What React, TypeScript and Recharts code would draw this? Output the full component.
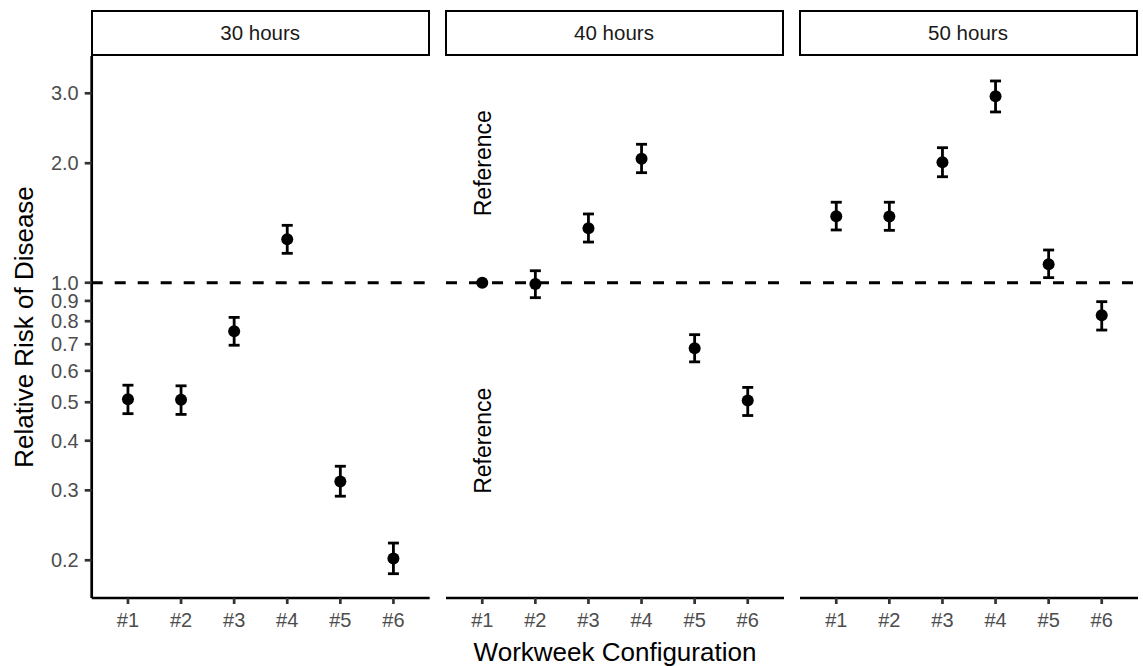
import React from 'react';
import {
  ScatterChart,
  Scatter,
  XAxis,
  YAxis,
  ErrorBar,
  ReferenceLine,
  ReferenceDot,
  Label,
} from 'recharts';

// ---------- data ----------
const categories = ['#1', '#2', '#3', '#4', '#5', '#6'];
const panelTitles = ['30 hours', '40 hours', '50 hours'];

const est30 = [0.509, 0.507, 0.755, 1.287, 0.316, 0.202];
const lo30 = [0.468, 0.466, 0.696, 1.186, 0.29, 0.185];
const hi30 = [0.552, 0.55, 0.818, 1.395, 0.345, 0.221];

const est40 = [1.0, 0.993, 1.371, 2.053, 0.684, 0.505];
const lo40 = [1.0, 0.917, 1.266, 1.893, 0.632, 0.463];
const hi40 = [1.0, 1.072, 1.49, 2.232, 0.74, 0.545];

const est50 = [1.471, 1.469, 2.011, 2.948, 1.113, 0.828];
const lo50 = [1.358, 1.355, 1.849, 2.692, 1.03, 0.76];
const hi50 = [1.595, 1.595, 2.188, 3.222, 1.209, 0.896];

const yTicks = [0.2, 0.3, 0.4, 0.5, 0.6, 0.7, 0.8, 0.9, 1.0, 2.0, 3.0];
const yDomain = [0.1607, 3.724];
const referenceLabelY = [2.0, 0.4];
const referenceText = 'Reference';
const yTitle = 'Relative Risk of Disease';
const xTitle = 'Workweek Configuration';

// ---------- layout / style ----------
const FONT = '"Liberation Sans", Arial, Helvetica, sans-serif';
const W = 1143;
const H = 666;
const PLOT_TOP = 56;
const PLOT_BOTTOM = 598;
const PLOT_W = 338;
const PANEL_LEFTS = [91.7, 445.5, 799.5];
const AXIS_W = 2.7;

const buildRows = (est: number[], lo: number[], hi: number[]) =>
  categories.map((c, i) => ({
    x: i + 1,
    est: est[i],
    err: [est[i] - lo[i], hi[i] - est[i]],
  }));

const panelData = [
  buildRows(est30, lo30, hi30),
  buildRows(est40, lo40, hi40),
  buildRows(est50, lo50, hi50),
];

const Dot = (p: any) => <circle cx={p.cx} cy={p.cy} r={6} fill="#000" />;

const YTitle = (props: any) => {
  const vb = props.viewBox || {};
  const cy = vb.y + vb.height / 2;
  const x = 33;
  return (
    <text
      x={x}
      y={cy}
      transform={`rotate(-90, ${x}, ${cy})`}
      textAnchor="middle"
      fontSize={26}
      fontFamily={FONT}
      fill="#000"
    >
      {yTitle}
    </text>
  );
};

const XTitle = (props: any) => {
  const vb = props.viewBox || {};
  const cx = vb.x + vb.width / 2;
  return (
    <text x={cx} y={661} textAnchor="middle" fontSize={26} fontFamily={FONT} fill="#000">
      {xTitle}
    </text>
  );
};

const RefText = (props: any) => {
  const vb = props.viewBox || {};
  const cx = vb.x + (vb.width || 0) / 2;
  const cy = vb.y + (vb.height || 0) / 2;
  const bx = cx + 9;
  return (
    <text
      x={bx}
      y={cy}
      transform={`rotate(-90, ${bx}, ${cy})`}
      textAnchor="middle"
      fontSize={23}
      fontFamily={FONT}
      fill="#000"
    >
      {referenceText}
    </text>
  );
};

function Panel({ index }: { index: number }) {
  const first = index === 0;
  const yAxisW = first ? PANEL_LEFTS[0] : 0;
  const leftMargin = first ? 0 : 2;
  const chartLeft = first ? 0 : PANEL_LEFTS[index] - 2;
  const chartW = (first ? PANEL_LEFTS[0] : 2) + PLOT_W + 2;
  return (
    <div style={{ position: 'absolute', left: chartLeft, top: 0 }}>
      <ScatterChart
        width={chartW}
        height={H}
        margin={{ top: PLOT_TOP, right: 2, bottom: 0, left: leftMargin }}
      >
        <XAxis
          type="number"
          dataKey="x"
          domain={[0.317, 6.683]}
          ticks={[1, 2, 3, 4, 5, 6]}
          interval={0}
          allowDataOverflow
          tickFormatter={(v: number) => categories[Math.round(v) - 1]}
          height={H - PLOT_BOTTOM}
          tickSize={6}
          tickMargin={9}
          tick={{ fontSize: 20, fill: '#4d4d4d', fontFamily: FONT }}
          tickLine={{ stroke: '#333', strokeWidth: AXIS_W }}
          axisLine={{ stroke: '#000', strokeWidth: AXIS_W }}
        >
          {index === 1 ? <Label content={XTitle} /> : null}
        </XAxis>
        <YAxis
          type="number"
          dataKey="est"
          scale="log"
          domain={yDomain}
          allowDataOverflow
          ticks={yTicks}
          interval={0}
          hide={!first}
          width={yAxisW}
          tickFormatter={(v: number) => v.toFixed(1)}
          tickSize={7}
          tickMargin={6}
          tick={{ fontSize: 20, fill: '#4d4d4d', fontFamily: FONT }}
          tickLine={{ stroke: '#333', strokeWidth: AXIS_W }}
          axisLine={{ stroke: '#000', strokeWidth: AXIS_W }}
        >
          {first ? <Label content={YTitle} /> : null}
        </YAxis>
        <ReferenceLine
          y={1}
          stroke="#000"
          strokeWidth={2.8}
          strokeDasharray="11 12"
          ifOverflow="extendDomain"
        />
        {index === 1
          ? referenceLabelY.map((v) => (
              <ReferenceDot
                key={v}
                x={1}
                y={v}
                r={0}
                fill="none"
                stroke="none"
                label={<Label content={RefText} />}
              />
            ))
          : null}
        <Scatter data={panelData[index]} shape={Dot} isAnimationActive={false}>
          <ErrorBar
            dataKey="err"
            direction="y"
            width={5.5}
            strokeWidth={2.8}
            stroke="#000"
            isAnimationActive={false}
          />
        </Scatter>
      </ScatterChart>
    </div>
  );
}

export default function App() {
  return (
    <div
      style={{
        position: 'absolute',
        left: 0,
        top: 0,
        width: W,
        height: H,
        background: '#fff',
        fontFamily: FONT,
        overflow: 'hidden',
      }}
    >
      {[0, 1, 2].map((i) => (
        <Panel key={i} index={i} />
      ))}
      {panelTitles.map((t, i) => (
        <div
          key={t}
          style={{
            position: 'absolute',
            left: PANEL_LEFTS[i] - 1,
            top: 10,
            width: PLOT_W + 1,
            height: PLOT_TOP - 10,
            boxSizing: 'border-box',
            border: `${AXIS_W}px solid #000`,
            background: '#fff',
            display: 'flex',
            alignItems: 'center',
            justifyContent: 'center',
            fontSize: 20.5,
            color: '#1a1a1a',
            fontFamily: FONT,
          }}
        >
          {t}
        </div>
      ))}
    </div>
  );
}
